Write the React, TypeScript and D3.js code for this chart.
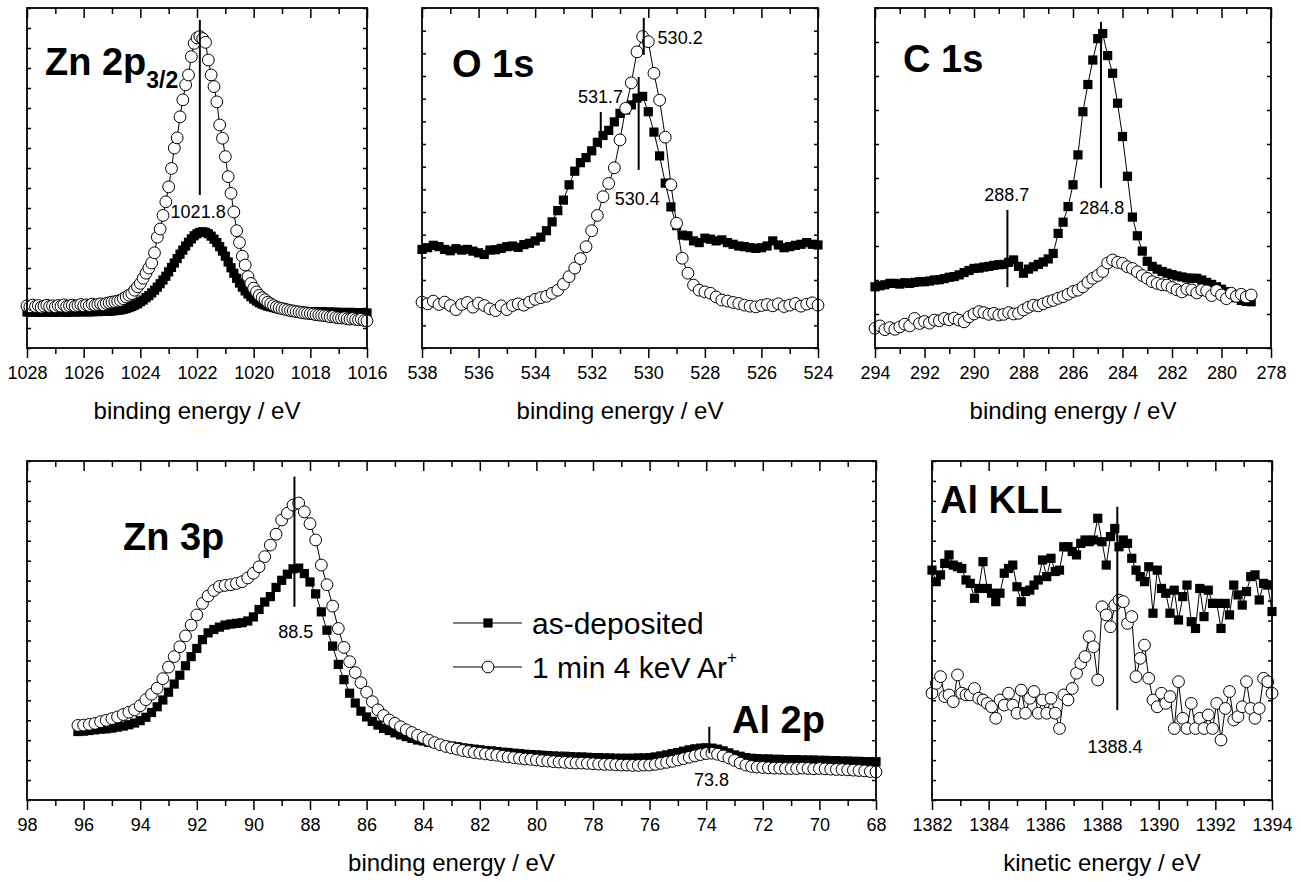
import React, { useEffect, useRef } from "react";
import * as d3 from "d3";

// all intensities are in arbitrary units: 0 = bottom of the frame, 100 = top

// Zn 2p3/2, binding energy, 0.1 eV grid starting at 1028 eV
const zn2pE0 = 1028;
const zn2pDE = -0.1;
const zn2pAsDep = [
  10.6, 10.5, 10.7, 10.6, 10.5, 10.6, 10.7, 10.5, 10.6, 10.6, 10.5, 10.7, 10.6, 10.6, 10.5, 10.7, 10.6, 10.6, 10.7, 10.6, 10.7,
  10.7, 10.6, 10.7, 10.8, 10.7, 10.8, 10.8, 10.9, 10.8, 10.9,
  11.0, 11.1, 11.2, 11.4, 11.6, 11.9, 12.2, 12.6, 13.0, 13.6,
  14.1, 14.8, 15.4, 16.2, 17.0, 17.9, 18.9, 20.0, 21.1, 22.4,
  23.7, 25.0, 26.3, 27.6, 28.8, 30.0, 31.1, 32.1, 33.0, 33.6,
  34.0, 34.2, 34.0, 33.6, 32.9, 32.0, 31.0, 29.8, 28.5, 27.0,
  25.3, 23.6, 22.0, 20.5, 19.1, 17.9, 16.8, 15.9, 15.1, 14.4,
  13.8, 13.3, 12.9, 12.6, 12.3, 12.1, 11.9, 11.7, 11.5, 11.4,
  11.3, 11.2, 11.1, 11.0, 10.9, 10.9, 10.8, 10.8, 10.7, 10.7,
  10.7, 10.6, 10.6, 10.7, 10.6, 10.5, 10.6, 10.5, 10.5, 10.4,
  10.5, 10.4, 10.4, 10.5, 10.3, 10.4, 10.3, 10.4, 10.2, 10.3,
];
const zn2pAr = [
  12.4, 12.1, 12.6, 12.2, 12.5, 12.0, 12.3, 12.6, 12.2, 12.4, 12.1, 12.5, 12.3, 12.7, 12.2, 12.4, 12.6, 12.3, 12.5, 12.8, 12.4,
  12.7, 12.5, 12.9, 12.6, 12.8, 13.0, 12.7, 13.1, 13.3, 13.5,
  13.6, 13.8, 14.0, 14.5, 15.0, 15.5, 16.0, 17.0, 18.0, 19.0,
  20.5, 22.0, 23.5, 25.0, 28.0, 32.6, 35.0, 39.0, 43.0, 47.4,
  52.8, 58.8, 61.8, 68.0, 73.0, 77.4, 80.3, 85.7, 89.6, 91.2,
  91.6, 91.0, 89.9, 84.7, 80.3, 76.9, 72.4, 65.6, 61.7, 56.3,
  50.4, 45.5, 40.0, 34.5, 31.0, 27.0, 24.4, 21.0, 19.0, 17.6,
  16.5, 15.5, 14.8, 14.2, 13.5, 13.0, 12.5, 12.1, 11.8, 11.6,
  11.4, 11.2, 11.0, 10.9, 10.7, 10.6, 10.4, 10.3, 10.2, 10.1,
  10.0, 9.8, 9.7, 9.6, 9.5, 9.4, 9.2, 9.3, 9.0, 8.9,
  8.8, 8.9, 8.6, 8.5, 8.7, 8.4, 8.3, 8.5, 8.1, 8.0,
];

// O 1s, 0.2 eV grid starting at 538 eV
const o1sE0 = 538;
const o1sDE = -0.2;
const o1sAsDep = [
  29.0, 29.5, 30.2, 29.8, 29.0, 28.6, 29.2, 28.8, 29.0, 28.5, 28.0, 27.5, 28.8, 28.9, 29.3, 29.8, 30.0, 29.6, 30.4, 30.8,
  31.5,
  32.6, 34.5, 37.1, 40.4, 43.5, 48.0, 52.0, 54.5, 56.0, 58.0,
  60.5, 62.5, 64.0, 66.5, 69.0, 70.0, 71.5, 73.5, 74.0, 69.5,
  63.5, 56.5, 48.5, 41.5, 36.0, 33.2, 33.0, 31.5, 31.0, 32.3,
  32.0, 31.5, 31.8, 31.0, 30.5, 30.0, 29.8, 29.5, 29.3, 29.5,
  30.0, 31.5, 30.3, 29.5, 29.8, 30.2, 30.5, 31.0, 30.5, 30.3,
];
const o1sAr = [
  13.5, 13.0, 13.8, 12.8, 13.5, 12.5, 11.3, 12.8, 13.4, 12.0, 13.2, 12.5, 11.5, 11.0, 12.4, 11.3, 12.5, 13.0, 12.6, 13.5,
  14.3,
  14.8, 15.2, 16.1, 17.0, 18.8, 21.0, 23.5, 26.3, 29.8, 34.5,
  39.0, 44.5, 48.4, 53.0, 61.2, 70.5, 78.0, 87.1, 91.6, 90.1,
  80.8, 72.9, 62.0, 48.0, 36.7, 26.4, 22.0, 18.5, 17.0, 16.5,
  16.1, 15.0, 14.1, 13.8, 13.4, 13.1, 12.6, 12.3, 12.1, 12.5,
  12.8, 12.4, 13.0, 12.2, 12.6, 13.1, 12.3, 12.9, 13.3, 12.6,
];

// C 1s, 0.2 eV grid starting at 294 eV
const c1sE0 = 294;
const c1sDE = -0.2;
const c1sAsDep = [
  18.0, 18.3, 18.6, 19.0, 19.0, 18.8, 19.2, 19.0, 19.3, 19.5,
  19.5, 19.7, 20.0, 20.1, 20.4, 20.8, 21.0, 21.5, 22.2, 22.8,
  23.4, 23.5, 23.8, 24.0, 24.3, 24.5, 24.6, 25.2, 25.9, 24.0,
  22.0, 23.2, 23.9, 24.6, 25.3, 26.2, 27.8, 33.7, 37.0, 41.6,
  48.0, 56.8, 69.5, 77.5, 84.7, 91.0, 92.5, 86.0, 80.8, 72.0,
  62.2, 50.5, 38.5, 33.0, 28.5, 25.5, 24.0, 23.2, 22.5, 22.0,
  21.6, 21.2, 20.9, 20.6, 20.5, 20.5, 20.0, 19.3, 18.7, 18.0,
  17.3, 16.6, 15.8, 14.8, 14.0, 13.7, 13.6,
];
const c1sAr = [
  5.8, 6.5, 5.4, 6.0, 5.5, 6.2, 7.0, 6.5, 8.7, 7.2,
  7.8, 7.3, 8.2, 8.0, 8.7, 8.3, 8.8, 8.2, 7.7, 9.2,
  10.0, 10.7, 10.4, 9.9, 10.2, 9.7, 9.9, 10.4, 10.0, 10.2,
  11.2, 12.0, 12.6, 12.4, 13.0, 13.6, 14.0, 14.6, 15.1, 15.8,
  16.6, 17.0, 18.0, 19.3, 20.5, 21.3, 22.5, 25.0, 25.9, 25.2,
  24.9, 23.9, 23.4, 22.4, 21.3, 20.5, 19.5, 19.0, 18.6, 18.5,
  17.8, 17.1, 16.5, 17.3, 17.1, 16.2, 17.1, 16.8, 15.4, 16.9,
  15.6, 14.5, 16.1, 15.2, 15.8, 15.0, 15.6,
];

// Zn 3p + Al 2p, 0.2 eV grid starting at 96.2 eV
const zn3pE0 = 96.2;
const zn3pDE = -0.2;
const zn3pAsDep = [
  20.2, 20.3, 20.5, 20.7, 20.9, 21.0, 21.2, 21.5, 21.8, 22.2,
  22.7, 23.4, 24.4, 25.8, 27.5, 29.5, 31.8, 34.2, 36.8, 39.6,
  42.3, 44.7, 47.3, 49.3, 50.3, 51.0, 51.6, 51.9, 52.1, 52.3,
  52.8, 54.0, 56.2, 58.4, 60.0, 62.7, 64.8, 66.6, 68.2, 68.4,
  66.8, 64.3, 60.8, 55.5, 50.1, 45.4, 40.0, 35.5, 31.5, 28.6,
  26.2, 24.5, 23.2, 22.1, 21.1, 20.5, 19.8, 19.2, 18.7, 18.2,
  17.7, 17.4, 17.0, 16.7, 16.4, 16.1, 15.9, 15.7, 15.4, 15.2,
  15.0, 14.8, 14.6, 14.5, 14.3, 14.1, 14.0, 13.8, 13.7, 13.5,
  13.4, 13.3, 13.2, 13.1, 13.0, 12.9, 12.9, 12.8, 12.7, 12.7,
  12.6, 12.5, 12.5, 12.4, 12.4, 12.3, 12.3, 12.3, 12.3, 12.4,
  12.4, 12.5, 12.7, 13.0, 13.3, 13.7, 14.0, 14.4, 14.8, 15.1,
  15.3, 15.4, 15.3, 15.0, 14.5, 13.9, 13.3, 12.9, 12.5, 12.3,
  12.2, 12.1, 12.1, 12.0, 12.0, 11.9, 11.9, 11.9, 11.8, 11.8,
  11.8, 11.7, 11.7, 11.6, 11.6, 11.5, 11.5, 11.4, 11.4, 11.3,
  11.3, 11.3,
];
const zn3pAr = [
  22.0, 22.1, 22.3, 22.6, 23.1, 23.5, 24.0, 24.5, 25.2, 25.9,
  26.6, 27.8, 29.6, 31.2, 33.0, 35.8, 39.2, 42.3, 45.2, 48.4,
  51.6, 54.6, 58.0, 60.2, 61.8, 63.0, 63.3, 63.5, 63.9, 64.4,
  65.5, 66.9, 68.8, 71.8, 75.2, 78.4, 82.6, 84.6, 87.0, 87.6,
  85.0, 81.5, 76.7, 69.3, 63.5, 57.2, 50.6, 45.0, 40.8, 37.6,
  34.6, 31.8, 29.0, 26.6, 24.9, 23.6, 22.6, 21.6, 20.7, 19.9,
  19.1, 18.4, 17.6, 16.9, 16.3, 15.8, 15.4, 15.0, 14.6, 14.3,
  14.0, 13.8, 13.6, 13.4, 13.2, 12.9, 12.7, 12.5, 12.3, 12.1,
  12.0, 11.8, 11.6, 11.5, 11.3, 11.2, 11.1, 11.0, 10.9, 10.9,
  10.8, 10.7, 10.6, 10.5, 10.5, 10.4, 10.3, 10.3, 10.2, 10.2,
  10.3, 10.3, 10.5, 10.8, 11.1, 11.4, 11.8, 12.2, 12.6, 13.0,
  13.4, 13.7, 13.8, 13.5, 13.0, 12.4, 11.7, 10.9, 10.3, 9.9,
  9.7, 9.6, 9.5, 9.4, 9.4, 9.3, 9.3, 9.3, 9.4, 9.3,
  9.2, 9.3, 9.2, 9.1, 9.0, 9.0, 8.9, 8.8, 8.7, 8.6,
  8.4, 8.3,
];

// Al KLL, kinetic energy, 0.15 eV grid starting at 1382 eV
const allE0 = 1382;
const allDE = 0.15;
const allAsDep = [
  67.8, 64.4, 66.4, 69.8, 72.3, 69.3, 68.8, 68.3, 64.9, 63.9,
  59.5, 62.4, 70.3, 62.4, 61.0, 58.5, 61.0, 66.9, 68.3, 69.3,
  62.9, 58.5, 61.5, 61.9, 63.4, 64.9, 70.8, 65.9, 71.3, 67.4,
  67.8, 74.7, 74.7, 73.3, 72.3, 75.7, 76.7, 76.2, 76.7, 83.1,
  76.2, 69.3, 77.7, 80.1, 74.7, 76.7, 75.7, 71.3, 67.8, 65.9,
  64.4, 68.8, 55.1, 67.8, 62.4, 61.0, 55.1, 61.9, 53.1, 60.0,
  63.4, 52.6, 50.6, 62.4, 54.1, 61.9, 58.0, 58.0, 50.6, 58.0,
  54.6, 63.4, 60.5, 57.5, 61.5, 65.9, 66.4, 59.0, 63.9, 63.4,
  55.6,
];
const allAr = [
  31.5, 34.4, 36.4, 30.5, 31.0, 29.0, 36.9, 31.5, 31.0, 31.0,
  32.9, 30.0, 29.5, 28.5, 27.5, 24.1, 29.5, 28.0, 31.5, 28.0,
  25.6, 32.4, 25.6, 30.0, 32.0, 25.6, 29.5, 25.6, 30.0, 25.6,
  21.1, 31.0, 29.5, 32.9, 37.4, 40.3, 42.3, 48.2, 45.2, 35.4,
  57.0, 54.6, 51.1, 57.5, 59.0, 58.5, 52.1, 54.1, 36.4, 41.8,
  45.7, 35.9, 29.5, 27.5, 31.5, 28.5, 30.5, 21.1, 34.9, 24.1,
  21.1, 28.5, 21.1, 24.1, 21.1, 25.1, 21.1, 28.5, 17.7, 27.0,
  32.0, 23.6, 24.6, 27.5, 34.9, 27.0, 24.1, 27.0, 35.9, 34.9,
  31.5,
];

const seriesNames = ["as-deposited", "1 min 4 keV Ar"];
const bindingTitle = "binding energy / eV";
const kineticTitle = "kinetic energy / eV";

// peak marks: energy, vertical extent (lo..hi) and label (text, le, lv)
const zn2pMarks = [{ e: 1021.9, lo: 45, hi: 96.5, text: "1021.8", le: 1021.96, lv: 40, anchor: "middle" }];
const o1sMarks = [
  { e: 530.16, lo: 86.2, hi: 97.1, text: "530.2", le: 529.67, lv: 91.2, anchor: "start" },
  { e: 530.34, lo: 52.4, hi: 79.7, text: "530.4", le: 530.39, lv: 43.8, anchor: "middle" },
  { e: 531.68, lo: 58.8, hi: 69.4, text: "531.7", le: 531.69, lv: 73.8, anchor: "middle" },
];
const c1sMarks = [
  { e: 284.87, lo: 47.1, hi: 95.9, text: "284.8", le: 284.84, lv: 41.2, anchor: "middle" },
  { e: 288.65, lo: 17.9, hi: 40.6, text: "288.7", le: 288.68, lv: 45, anchor: "middle" },
];
const zn3pMarks = [
  { e: 88.55, lo: 57, hi: 95.4, text: "88.5", le: 88.5, lv: 49.6, anchor: "middle" },
  { e: 73.89, lo: 13.8, hi: 21.6, text: "73.8", le: 73.81, lv: 5.9, anchor: "middle" },
];
const allMarks = [{ e: 1388.54, lo: 26.5, hi: 86.5, text: "1388.4", le: 1388.46, lv: 15.6, anchor: "middle" }];

const FONT = "'Liberation Sans', Arial, Helvetica, sans-serif";

const panels = [
  {
    left: 27, top: 8, width: 340, height: 340, xDomain: [1028, 1016], yDiv: 17,
    e0: zn2pE0, de: zn2pDE, asDep: zn2pAsDep, ar: zn2pAr, marks: zn2pMarks, xTitle: bindingTitle,
    titles: [{ text: "Zn 2p", sub: "3/2", dx: 18, dy: 67 }],
  },
  {
    left: 422, top: 8, width: 396, height: 340, xDomain: [538, 524], yDiv: 15,
    e0: o1sE0, de: o1sDE, asDep: o1sAsDep, ar: o1sAr, marks: o1sMarks, xTitle: bindingTitle,
    titles: [{ text: "O 1s", dx: 30, dy: 69 }],
  },
  {
    left: 875, top: 8, width: 396, height: 340, xDomain: [294, 278], yDiv: 10,
    e0: c1sE0, de: c1sDE, asDep: c1sAsDep, ar: c1sAr, marks: c1sMarks, xTitle: bindingTitle,
    titles: [{ text: "C 1s", dx: 28, dy: 64 }],
  },
  {
    left: 27, top: 461, width: 849, height: 339, xDomain: [98, 68], yDiv: 17,
    e0: zn3pE0, de: zn3pDE, asDep: zn3pAsDep, ar: zn3pAr, marks: zn3pMarks, xTitle: bindingTitle,
    titles: [{ text: "Zn 3p", dx: 96, dy: 89 }, { text: "Al 2p", dx: 705, dy: 272 }],
    legend: true,
  },
  {
    left: 932, top: 461, width: 340, height: 339, xDomain: [1382, 1394], yDiv: 17,
    e0: allE0, de: allDE, asDep: allAsDep, ar: allAr, marks: allMarks, xTitle: kineticTitle,
    titles: [{ text: "Al KLL", dx: 8, dy: 52 }],
  },
];

const SQ = 9.2;
const R = 5.9;

const App = () => {
  const svgRef = useRef<SVGSVGElement>(null);

  useEffect(() => {
    const svg = d3.select(svgRef.current);
    svg.selectAll("*").remove();
    svg.append("rect").attr("width", 1301).attr("height", 882).attr("fill", "#fff");

    const tidy = (sel: any) => {
      sel.select(".domain").remove();
      sel.selectAll("line").attr("stroke", "#000").attr("stroke-width", 1.5);
      sel.selectAll("text").attr("font-family", FONT).attr("font-size", 18).attr("fill", "#000");
    };

    panels.forEach((p: any) => {
      const g = svg.append("g").attr("transform", `translate(${p.left},${p.top})`);
      const x = d3.scaleLinear().domain(p.xDomain).range([0, p.width]);
      const y = d3.scaleLinear().domain([0, 100]).range([p.height, 0]);

      const lo = Math.min(...p.xDomain);
      const hi = Math.max(...p.xDomain);
      const major = d3.range(lo, hi + 0.001, 2);
      const minor = d3.range(lo + 1, hi, 2);
      const yt = d3.range(0, 100.001, 100 / p.yDiv);
      const none = () => "";

      // axes: bottom out, top in, sides in
      g.append("g").attr("transform", `translate(0,${p.height})`)
        .call(d3.axisBottom(x).tickValues(major).tickSize(10).tickPadding(8).tickFormat(d3.format("d")))
        .call(tidy);
      g.append("g").attr("transform", `translate(0,${p.height})`)
        .call(d3.axisBottom(x).tickValues(minor).tickSize(6).tickFormat(none)).call(tidy);
      g.append("g").call(d3.axisTop(x).tickValues(major).tickSize(-10).tickFormat(none)).call(tidy);
      g.append("g").call(d3.axisTop(x).tickValues(minor).tickSize(-6).tickFormat(none)).call(tidy);
      g.append("g").call(d3.axisLeft(y).tickValues(yt).tickSize(-4).tickFormat(none)).call(tidy);
      g.append("g").attr("transform", `translate(${p.width},0)`)
        .call(d3.axisRight(y).tickValues(yt).tickSize(-4).tickFormat(none)).call(tidy);

      g.append("text")
        .attr("x", p.width / 2).attr("y", p.height + 71)
        .attr("text-anchor", "middle").attr("font-family", FONT).attr("font-size", 24)
        .text(p.xTitle);

      const toPts = (vals: number[]) => vals.map((v, i) => ({ e: p.e0 + p.de * i, v }));
      const line = d3.line<any>().x((d) => x(d.e)).y((d) => y(d.v));

      const asPts = toPts(p.asDep);
      const arPts = toPts(p.ar);

      g.append("path").datum(asPts).attr("d", line).attr("fill", "none").attr("stroke", "#000").attr("stroke-width", 1);
      g.selectAll(".sq").data(asPts).join("rect").attr("class", "sq")
        .attr("x", (d: any) => x(d.e) - SQ / 2).attr("y", (d: any) => y(d.v) - SQ / 2)
        .attr("width", SQ).attr("height", SQ).attr("fill", "#000");

      g.append("path").datum(arPts).attr("d", line).attr("fill", "none").attr("stroke", "#000").attr("stroke-width", 1);
      g.selectAll(".ci").data(arPts).join("circle").attr("class", "ci")
        .attr("cx", (d: any) => x(d.e)).attr("cy", (d: any) => y(d.v)).attr("r", R)
        .attr("fill", "#fff").attr("stroke", "#000").attr("stroke-width", 1);

      // peak marks
      p.marks.forEach((m: any) => {
        g.append("line")
          .attr("x1", x(m.e)).attr("x2", x(m.e)).attr("y1", y(m.lo)).attr("y2", y(m.hi))
          .attr("stroke", "#000").attr("stroke-width", 2);
        g.append("text")
          .attr("x", x(m.le)).attr("y", y(m.lv)).attr("dy", "0.35em")
          .attr("text-anchor", m.anchor).attr("font-family", FONT).attr("font-size", 18)
          .text(m.text);
      });

      // frame
      g.append("rect").attr("width", p.width).attr("height", p.height)
        .attr("fill", "none").attr("stroke", "#000").attr("stroke-width", 1.8);

      p.titles.forEach((t: any) => {
        const tx = g.append("text").attr("x", t.dx).attr("y", t.dy)
          .attr("font-family", FONT).attr("font-size", 38).attr("font-weight", "bold");
        tx.append("tspan").text(t.text);
        if (t.sub) tx.append("tspan").attr("font-size", 23).attr("dy", 13).text(t.sub);
      });

      if (p.legend) {
        const lg = g.append("g").attr("transform", "translate(426,162)");
        seriesNames.forEach((name, i) => {
          const row = lg.append("g").attr("transform", `translate(0,${i * 44})`);
          row.append("line").attr("x1", 0).attr("x2", 69).attr("stroke", "#000").attr("stroke-width", 1);
          if (i === 0) {
            row.append("rect").attr("x", 35 - SQ / 2).attr("y", -SQ / 2).attr("width", SQ).attr("height", SQ).attr("fill", "#000");
          } else {
            row.append("circle").attr("cx", 35).attr("r", R).attr("fill", "#fff").attr("stroke", "#000");
          }
          const tx = row.append("text").attr("x", 79).attr("y", 10.5)
            .attr("font-family", FONT).attr("font-size", 30);
          tx.append("tspan").text(name);
          if (i === 1) tx.append("tspan").attr("font-size", 17).attr("dy", -15).text("+");
        });
      }
    });
  }, []);

  return (
    <svg ref={svgRef} width={1301} height={882} style={{ position: "absolute", left: 0, top: 0, display: "block" }} />
  );
};

export default App;
